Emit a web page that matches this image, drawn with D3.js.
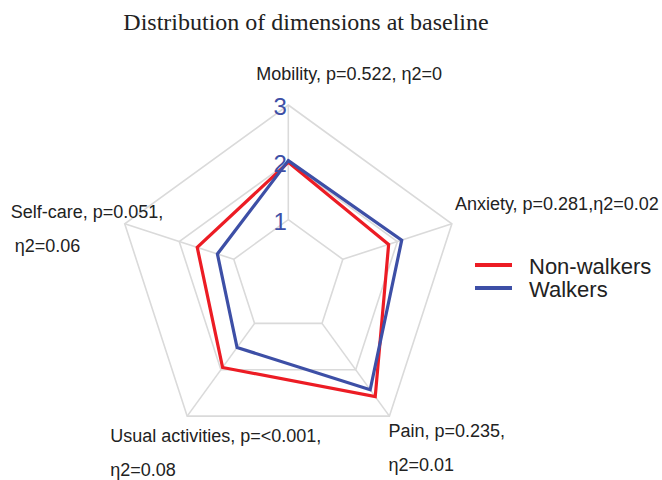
<!DOCTYPE html>
<html>
<head>
<meta charset="utf-8">
<script src="https://cdn.jsdelivr.net/npm/d3@7"></script>
<style>
  html, body { margin: 0; padding: 0; background: #fff; }
  svg { display: block; }
</style>
</head>
<body>
<svg id="chart" width="662" height="480"></svg>
<script>
// ---- data ----
const title = "Distribution of dimensions at baseline";
const dimensions = ["Mobility", "Anxiety", "Pain", "Usual activities", "Self-care"];
const dimensionLabels = [
  ["Mobility, p=0.522, \u03b72=0"],
  ["Anxiety, p=0.281,\u03b72=0.02"],
  ["Pain, p=0.235,", "\u03b72=0.01"],
  ["Usual activities, p=<0.001,", "\u03b72=0.08"],
  ["Self-care, p=0.051,", "\u03b72=0.06"]
];
const seriesNames = ["Non-walkers", "Walkers"];
const nonWalkers = [2.00, 1.84, 2.58, 1.95, 1.67];
const walkers = [2.03, 2.08, 2.43, 1.52, 1.30];
const tickValues = [1, 2, 3];
const tickLabels = ["1", "2", "3"];

// ---- layout ----
const cx = 288.3, cy = 277;
const R = 172;
const colors = ["#ec1c24", "#3d4fa6"];
const gridColor = "#dadada";

const svg = d3.select("#chart");
const r = d3.scaleLinear().domain([0, 3]).range([0, R]);
const ang = (i) => i * 2 * Math.PI / dimensions.length;
const pt = (i, v) => [cx + r(v) * Math.sin(ang(i)), cy - r(v) * Math.cos(ang(i))];

// title
svg.append("text")
  .attr("x", 306).attr("y", 30)
  .attr("text-anchor", "middle")
  .attr("font-family", "'Liberation Serif', 'Times New Roman', serif")
  .attr("font-size", 24)
  .attr("fill", "#222")
  .text(title);

const g = svg.append("g").attr("transform", `translate(${cx},${cy})`);

// grid rings
const ringLine = d3.lineRadial()
  .angle((d, i) => ang(i))
  .radius(d => r(d))
  .curve(d3.curveLinearClosed);

tickValues.forEach(t => {
  g.append("path")
    .attr("d", ringLine(dimensions.map(() => t)))
    .attr("fill", "none")
    .attr("stroke", gridColor)
    .attr("stroke-width", 1.6);
});

// spokes (from inner ring to outer ring)
dimensions.forEach((d, i) => {
  const a = ang(i);
  const r0 = r(tickValues[0]), r1 = r(tickValues[tickValues.length - 1]);
  g.append("line")
    .attr("x1", r0 * Math.sin(a)).attr("y1", -r0 * Math.cos(a))
    .attr("x2", r1 * Math.sin(a)).attr("y2", -r1 * Math.cos(a))
    .attr("stroke", gridColor)
    .attr("stroke-width", 1.6);
});

// series
const seriesLine = d3.lineRadial()
  .angle((d, i) => ang(i))
  .radius(d => r(d))
  .curve(d3.curveLinearClosed);

[nonWalkers, walkers].forEach((vals, k) => {
  g.append("path")
    .attr("d", seriesLine(vals))
    .attr("fill", "none")
    .attr("stroke", colors[k])
    .attr("stroke-width", 3.2)
    .attr("stroke-linejoin", "miter");
});

// tick labels
tickValues.forEach((t, i) => {
  g.append("text")
    .attr("x", -1.5)
    .attr("y", -r(t) + 10)
    .attr("text-anchor", "end")
    .attr("font-family", "'Liberation Sans', Arial, sans-serif")
    .attr("font-size", 24)
    .attr("fill", "#3d4fa6")
    .text(tickLabels[i]);
});

// axis labels (offset from the outer vertex)
const labelOffsets = [
  [-32, -25], [3, -14], [-1, 21], [-77, 26], [-114, -6]
];
const secondLineDx = [0, 0, 0, 0, 4];
const lineGap = 34;
dimensionLabels.forEach((lines, i) => {
  const [vx, vy] = pt(i, 3);
  const t = svg.append("text")
    .attr("font-family", "'Liberation Sans', Arial, sans-serif")
    .attr("font-size", 18)
    .attr("fill", "#222");
  lines.forEach((ln, j) => {
    t.append("tspan")
      .attr("x", vx + labelOffsets[i][0] + (j > 0 ? secondLineDx[i] : 0))
      .attr("y", vy + labelOffsets[i][1] + j * lineGap)
      .text(ln);
  });
});

// legend
const legend = svg.append("g");
seriesNames.forEach((name, k) => {
  const y = 265 + k * 23;
  legend.append("line")
    .attr("x1", 475).attr("x2", 512)
    .attr("y1", y).attr("y2", y)
    .attr("stroke", colors[k])
    .attr("stroke-width", 4);
  legend.append("text")
    .attr("x", 529).attr("y", y + 9)
    .attr("font-family", "'Liberation Sans', Arial, sans-serif")
    .attr("font-size", 22)
    .attr("fill", "#222")
    .text(name);
});
</script>
</body>
</html>
